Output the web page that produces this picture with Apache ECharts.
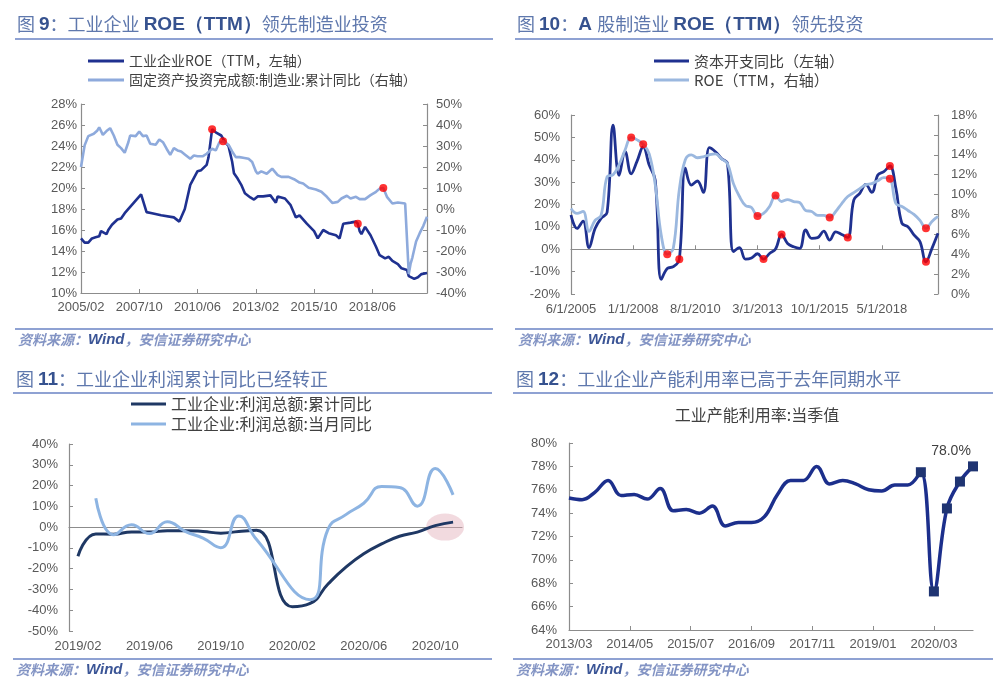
<!DOCTYPE html>
<html>
<head>
<meta charset="utf-8">
<script src="https://cdn.jsdelivr.net/npm/echarts@6/dist/echarts.min.js"></script>
<style>
html, body { margin: 0; padding: 0; background: #fff; }
#main { width: 1000px; height: 698px; }
</style>
</head>
<body>
<div id="main"></div>
<script>
// ---- 图9: 工业企业ROE(TTM) 与 制造业投资 (月度, 2005/02 - 2020/12)
const roeIndustry = [
  ['2005/02',15.2],['2005/04',14.8],['2005/06',14.8],['2005/08',15.2],['2005/10',15.3],['2005/12',15.4],
  ['2006/01',15.9],['2006/02',16.0],['2006/04',15.6],['2006/05',16.0],['2006/07',16.5],['2006/10',17.0],
  ['2006/12',17.1],['2007/01',17.0],['2007/02',17.6],['2007/05',18.2],['2007/08',18.8],['2007/11',19.4],
  ['2008/02',17.7],['2008/05',17.6],['2008/10',17.4],['2009/05',17.2],['2009/08',16.8],['2009/11',18.0],
  ['2010/02',20.3],['2010/06',21.6],['2010/08',21.7],['2010/11',22.2],['2010/12',22.9],['2011/02',25.6],
  ['2011/04',25.3],['2011/07',25.0],['2011/09',24.4],['2011/11',24.0],['2012/01',22.5],['2012/02',21.4],
  ['2012/04',20.9],['2012/06',20.3],['2012/08',19.5],['2012/11',19.1],['2013/01',18.9],['2013/03',19.2],
  ['2013/06',19.2],['2013/10',19.3],['2014/01',18.6],['2014/02',19.2],['2014/06',19.0],['2014/09',18.4],
  ['2014/12',17.2],['2015/02',17.4],['2015/06',16.6],['2015/10',15.9],['2015/12',15.2],['2016/03',16.0],
  ['2016/06',15.7],['2016/10',15.5],['2016/12',15.2],['2017/02',16.6],['2017/06',16.7],['2017/09',16.8],
  ['2017/10',16.6],['2017/11',15.9],['2017/12',15.6],['2018/02',16.3],['2018/05',15.5],['2018/08',14.4],
  ['2018/10',13.6],['2019/01',13.3],['2019/03',13.45],['2019/05',13.05],['2019/08',12.75],['2019/10',12.35],
  ['2020/01',12.2],['2020/02',11.6],['2020/05',11.35],['2020/07',11.5],['2020/09',11.8],['2020/12',11.9]
];
const faiManufacturing = [
  ['2005/02',20.0],['2005/04',30.3],['2005/06',34.7],['2005/09',35.8],['2005/11',37.4],['2005/12',38.9],
  ['2006/02',35.3],['2006/04',37.1],['2006/06',38.5],['2006/08',35.0],['2006/10',30.6],['2006/12',29.0],
  ['2007/02',26.8],['2007/04',31.8],['2007/05',35.0],['2007/08',34.7],['2007/10',36.9],['2007/12',34.7],
  ['2008/02',35.0],['2008/04',31.1],['2008/07',30.6],['2008/09',33.1],['2008/11',31.8],['2009/01',28.7],
  ['2009/03',25.8],['2009/05',29.0],['2009/07',27.9],['2009/09',27.4],['2009/11',26.0],['2010/02',23.9],
  ['2010/04',25.5],['2010/06',25.1],['2010/09',25.2],['2010/11',26.3],['2011/02',28.7],['2011/04',27.9],
  ['2011/06',31.8],['2011/08',32.3],['2011/11',30.6],['2012/01',27.4],['2012/03',24.7],['2012/05',24.7],
  ['2012/07',24.4],['2012/10',23.9],['2012/12',22.4],['2013/02',18.0],['2013/03',16.8],['2013/05',17.9],
  ['2013/08',16.8],['2013/11',19.2],['2014/02',16.1],['2014/04',15.3],['2014/08',15.3],['2014/11',14.2],
  ['2015/02',12.6],['2015/04',12.1],['2015/07',10.1],['2015/11',9.3],['2016/02',8.2],['2016/05',5.8],
  ['2016/08',2.9],['2016/11',3.4],['2017/01',5.0],['2017/04',6.3],['2017/06',5.0],['2017/09',5.8],
  ['2017/11',4.7],['2018/02',4.7],['2018/05',6.6],['2018/08',8.2],['2018/10',9.7],['2018/12',10.0],
  ['2019/02',5.8],['2019/05',2.6],['2019/08',3.1],['2019/12',2.6],['2020/02',-31.0],['2020/03',-26.0],
  ['2020/04',-23.0],['2020/06',-15.5],['2020/08',-11.5],['2020/10',-8.0],['2020/12',-3.7]
];
const roeDots = [['2011/02',25.6],['2017/10',16.6]];
const faiDots = [['2011/08',32.3],['2018/12',10.0]];

// ---- 图10: A股制造业 (季度, 2005/06 起)
const capexYoy = [
  15.3, 9.3, 12.6, 0.7, 9.3, 13.8, 16.5, 55.5, 33.0, 43.6,
  33.7, 39.5, 45.8, 37.6, 30.9, -13.5, -8.6, -7.8, -4.5, 36.2,
  28.7, 30.5, 25.4, 45.4, 43.6, 40.6, 38.4, -1.1, 0.7, -4.4,
  -3.9, -2.0, -4.4, -1.9, 0.1, 6.6, 2.6, 1.1, 0.4, 8.6,
  4.9, 5.2, 8.1, 4.1, 7.8, 6.6, 5.3, 22.0, 25.0, 29.0,
  25.4, 33.2, 34.7, 37.2, 27.2, 11.6, 10.1, 6.4, 3.4, -5.6,
  0.4, 7.1
];
const roeTtmA = [
  8.6, 8.1, 8.3, 6.3, 7.4, 7.9, 11.8, 12.0, 13.0, 14.5,
  15.75, 15.5, 15.05, 14.1, 11.0, 5.9, 4.0, 4.6, 10.5, 13.5,
  14.0, 13.7, 13.8, 14.0, 14.1, 13.6, 13.1, 11.1, 9.8, 8.9,
  8.7, 7.85, 8.1, 8.8, 9.9, 9.3, 9.5, 9.3, 9.2, 8.4,
  8.3, 7.9, 7.9, 7.7, 8.3, 9.1, 9.8, 10.2, 10.6, 11.0,
  11.1, 11.4, 11.7, 11.6, 9.1, 8.8, 8.4, 8.0, 7.4, 6.6,
  7.3, 7.8
];
const capexDotQuarters = [18, 32, 35, 46, 53, 59];
const roeDotQuarters = [10, 12, 16, 31, 34, 43, 53, 59];

// ---- 图11: 工业企业利润 (月度, 2019/02 - 2020/11)
const profitCum = [-14.0, -3.3, -3.4, -2.3, -2.4, -1.7, -1.7, -2.1, -2.9, -2.1, -1.5, null,
  -38.3, -36.7, -27.4, -19.3, -12.8, -8.1, -4.4, -2.4, 0.7, 2.4];
const profitMonth = [null, 13.9, -3.7, 1.1, -3.1, 2.6, -2.0, -5.3, -9.9, 5.4, -6.0, null,
  null, -34.9, -1.0, 6.0, 11.5, 19.6, 19.1, 10.1, 28.2, 15.5];

// ---- 图12: 工业产能利用率 (季度, 2013/03 - 2020/12)
const capUtil = [
  75.3, 75.15, 75.8, 76.8, 75.5, 75.6, 75.2, 76.1,
  74.2, 74.3, 74.0, 74.6, 72.9, 73.2, 73.2, 73.7,
  75.6, 76.8, 76.8, 78.0, 76.5, 76.8, 76.5, 76.0,
  75.9, 76.4, 76.4, 77.5, 67.3, 74.4, 76.7, 78.0
];

function months(y, m, count, fmt) {
  const out = [];
  for (let i = 0; i < count; i++) {
    const yy = y + Math.floor((m - 1 + i) / 12);
    const mm = (m - 1 + i) % 12 + 1;
    out.push(fmt(yy, mm));
  }
  return out;
}
const pad = n => (n < 10 ? '0' : '') + n;
const ymFmt = (y, m) => y + '/' + pad(m);
const cats9 = months(2005, 2, 191, ymFmt);
const cats10 = months(2005, 6, 184, (y, m) => m + '/1/' + y);
const cats11 = months(2019, 2, 22, ymFmt);
const cats12 = months(2013, 3, 94, ymFmt);

const quarterly = arr => arr.map((v, i) => [i * 3, v]);

const DARK = '#1f3190';
const LIGHT = '#8eaadc';
const AXIS = '#8c8c8c';
const LABEL = '#595959';
const LATIN = 'Liberation Sans';
const CJK = 'Noto Sans CJK SC';

const axisLabelStyle = { color: LABEL, fontSize: 13, fontFamily: LATIN };

function yAx(grid, pos, min, max, step, margin) {
  return {
    type: 'value', gridIndex: grid, position: pos, min: min, max: max, interval: step,
    axisLine: { show: true, lineStyle: { color: AXIS, width: 1.2 } },
    axisTick: { show: true, inside: true, length: 4, lineStyle: { color: AXIS } },
    splitLine: { show: false },
    axisLabel: Object.assign({ formatter: '{value}%', margin: margin }, axisLabelStyle)
  };
}

const titleRich = {
  n: { fontSize: 18, color: '#5f78ad', fontFamily: CJK, fontWeight: 'normal' },
  b: { fontSize: 19, color: '#36528f', fontFamily: LATIN, fontWeight: 'bold' }
};
const srcRich = {
  n: { fontSize: 14, color: '#8394c4', fontFamily: CJK, fontStyle: 'italic' },
  w: { fontSize: 15, color: '#3b5596', fontFamily: LATIN, fontStyle: 'italic' }
};
const srcText = '{n|资料来源：}{w|Wind}{n|，安信证券研究中心}';

function ttl(left, top, text, rich) {
  return { left: left, top: top, padding: 0, text: text, textStyle: { rich: rich } };
}

function lgd(names, left, top, width, size) {
  return {
    data: names, orient: 'vertical', left: left, top: top, padding: 0,
    icon: 'rect', itemWidth: width, itemHeight: 3, itemGap: 3,
    textStyle: { fontSize: size, color: '#404040', fontFamily: CJK, lineHeight: 16 }
  };
}

function sepLine(x1, x2, y) {
  return { type: 'line', shape: { x1: x1, y1: y, x2: x2, y2: y },
    style: { stroke: '#8fa2d3', lineWidth: 2 } };
}

const chart = echarts.init(document.getElementById('main'));
chart.setOption({
  animation: false,
  backgroundColor: '#ffffff',
  textStyle: { fontFamily: LATIN + ', ' + CJK },
  title: [
    ttl(17, 15, '{n|图 }{b|9}{n|：工业企业 }{b|ROE（TTM）}{n|领先制造业投资}', titleRich),
    ttl(517, 15, '{n|图 }{b|10}{n|：}{b|A }{n|股制造业 }{b|ROE（TTM）}{n|领先投资}', titleRich),
    ttl(16, 370, '{n|图 }{b|11}{n|：工业企业利润累计同比已经转正}', titleRich),
    ttl(516, 370, '{n|图 }{b|12}{n|：工业企业产能利用率已高于去年同期水平}', titleRich),
    { left: 757, top: 407, padding: 0, textAlign: 'center', text: '工业产能利用率:当季值',
      textStyle: { fontSize: 16, color: '#404040', fontFamily: CJK, fontWeight: 'normal' } },
    ttl(18, 332, srcText, srcRich),
    ttl(518, 332, srcText, srcRich),
    ttl(16, 662, srcText, srcRich),
    ttl(516, 662, srcText, srcRich)
  ],
  graphic: [
    sepLine(15, 493, 39), sepLine(515, 993, 39),
    sepLine(15, 493, 329), sepLine(515, 993, 329),
    sepLine(13, 492, 393), sepLine(513, 993, 393),
    sepLine(13, 492, 659), sepLine(513, 993, 659)
  ],
  legend: [
    lgd(['工业企业ROE（TTM，左轴）', '固定资产投资完成额:制造业:累计同比（右轴）'], 88, 53, 36, 14),
    lgd(['资本开支同比（左轴）', 'ROE（TTM，右轴）'], 654, 53, 35, 15),
    Object.assign(lgd(['工业企业:利润总额:累计同比', '工业企业:利润总额:当月同比'], 131, 396, 35, 16), { itemGap: 4 })
  ],
  grid: [
    { left: 81, top: 104, width: 346, height: 189 },
    { left: 571, top: 115, width: 367, height: 179 },
    { left: 69, top: 444, width: 393, height: 187 },
    { left: 569, top: 443, width: 404, height: 187 }
  ],
  xAxis: [
    { type: 'category', gridIndex: 0, data: cats9, boundaryGap: false, position: 'bottom',
      axisLine: { onZero: false, lineStyle: { color: AXIS, width: 1.2 } },
      axisTick: { inside: true, length: 4, interval: 31, lineStyle: { color: AXIS } },
      axisLabel: Object.assign({ interval: 31, margin: 8 }, axisLabelStyle) },
    { type: 'category', gridIndex: 1, data: cats10, boundaryGap: false, position: 'bottom',
      axisLine: { onZero: true, onZeroAxisIndex: 2, lineStyle: { color: AXIS, width: 1.2 } },
      axisTick: { inside: true, length: 4, interval: 30, lineStyle: { color: AXIS } },
      axisLabel: { show: false } },
    { type: 'category', gridIndex: 1, data: cats10, boundaryGap: false, position: 'bottom',
      axisLine: { show: false, onZero: false }, axisTick: { show: false },
      axisLabel: Object.assign({ interval: 30, margin: 9 }, axisLabelStyle) },
    { type: 'category', gridIndex: 2, data: cats11, boundaryGap: true, position: 'bottom',
      axisLine: { onZero: true, onZeroAxisIndex: 4, lineStyle: { color: AXIS, width: 1.2 } },
      axisTick: { inside: true, length: 4, interval: 3, lineStyle: { color: AXIS } },
      axisLabel: { show: false } },
    { type: 'category', gridIndex: 2, data: cats11, boundaryGap: true, position: 'bottom',
      axisLine: { show: false, onZero: false }, axisTick: { show: false },
      axisLabel: Object.assign({ interval: 3, margin: 9 }, axisLabelStyle) },
    { type: 'category', gridIndex: 3, data: cats12, boundaryGap: false, position: 'bottom',
      axisLine: { onZero: false, lineStyle: { color: AXIS, width: 1.2 } },
      axisTick: { inside: true, length: 4, interval: 13, lineStyle: { color: AXIS } },
      axisLabel: Object.assign({ interval: 13, margin: 8 }, axisLabelStyle) }
  ],
  yAxis: [
    yAx(0, 'left', 10, 28, 2, 4),
    yAx(0, 'right', -40, 50, 10, 9),
    yAx(1, 'left', -20, 60, 10, 11),
    yAx(1, 'right', 0, 18, 2, 13),
    yAx(2, 'left', -50, 40, 10, 11),
    yAx(3, 'left', 64, 80, 2, 12)
  ],
  series: [
    { name: '工业企业ROE（TTM，左轴）', type: 'line', xAxisIndex: 0, yAxisIndex: 0,
      data: roeIndustry, symbol: 'none', color: DARK, lineStyle: { color: DARK, width: 2.6 } },
    { name: '固定资产投资完成额:制造业:累计同比（右轴）', type: 'line', xAxisIndex: 0, yAxisIndex: 1,
      data: faiManufacturing, symbol: 'none', color: LIGHT, lineStyle: { color: LIGHT, width: 2.6 } },
    { type: 'scatter', xAxisIndex: 0, yAxisIndex: 0, data: roeDots, symbolSize: 8, z: 5,
      itemStyle: { color: '#ff0000' } },
    { type: 'scatter', xAxisIndex: 0, yAxisIndex: 1, data: faiDots, symbolSize: 8, z: 5,
      itemStyle: { color: '#ff0000' } },

    { name: '资本开支同比（左轴）', type: 'line', xAxisIndex: 1, yAxisIndex: 2,
      data: quarterly(capexYoy), smooth: 0.4, symbol: 'none', color: DARK,
      lineStyle: { color: DARK, width: 2.8 } },
    { name: 'ROE（TTM，右轴）', type: 'line', xAxisIndex: 1, yAxisIndex: 3,
      data: quarterly(roeTtmA), smooth: 0.4, symbol: 'none', color: '#9bb8df',
      lineStyle: { color: '#9bb8df', width: 2.8 } },
    { type: 'scatter', xAxisIndex: 1, yAxisIndex: 2, symbolSize: 8, z: 5,
      data: capexDotQuarters.map(q => [q * 3, capexYoy[q]]), itemStyle: { color: '#ff0000' } },
    { type: 'scatter', xAxisIndex: 1, yAxisIndex: 3, symbolSize: 8, z: 5,
      data: roeDotQuarters.map(q => [q * 3, roeTtmA[q]]), itemStyle: { color: '#ff0000' } },

    { type: 'scatter', xAxisIndex: 3, yAxisIndex: 4, data: [['2020/11', 0]], z: 1,
      symbol: 'circle', symbolSize: [38, 27], symbolOffset: [-8, 0],
      itemStyle: { color: 'rgba(226, 170, 182, 0.55)' } },
    { name: '工业企业:利润总额:累计同比', type: 'line', xAxisIndex: 3, yAxisIndex: 4,
      data: profitCum, smooth: true, connectNulls: true, symbol: 'none', color: '#1f3864',
      lineStyle: { color: '#1f3864', width: 3 } },
    { name: '工业企业:利润总额:当月同比', type: 'line', xAxisIndex: 3, yAxisIndex: 4,
      data: profitMonth, smooth: true, connectNulls: true, symbol: 'none', color: '#8db4e2',
      lineStyle: { color: '#8db4e2', width: 3 } },

    { name: '工业产能利用率:当季值', type: 'line', xAxisIndex: 5, yAxisIndex: 5,
      data: quarterly(capUtil), smooth: 0.4, showAllSymbol: true, symbol: 'rect',
      symbolSize: (v, p) => (p.dataIndex >= capUtil.length - 5 ? 10 : 0),
      color: '#1f3472', itemStyle: { color: '#1f3472' },
      lineStyle: { color: '#1c2f8c', width: 3.5 },
      label: { show: true, position: 'top', offset: [-22, 2], fontSize: 14, color: '#404040',
        fontFamily: LATIN,
        formatter: p => (p.dataIndex === capUtil.length - 1 ? p.value[1].toFixed(1) + '%' : '') } }
  ]
});
</script>
</body>
</html>
